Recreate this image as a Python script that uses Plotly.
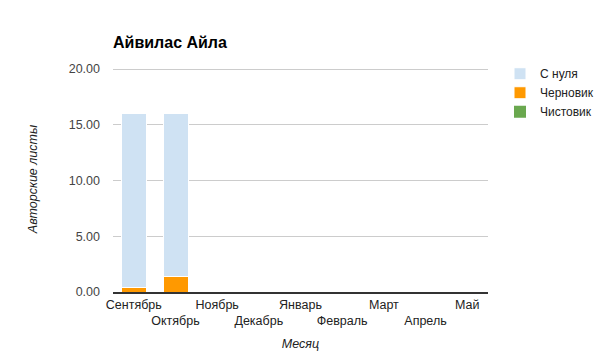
import plotly.graph_objects as go

months = ["Сентябрь", "Октябрь", "Ноябрь", "Декабрь", "Январь",
          "Февраль", "Март", "Апрель", "Май"]
from_scratch = [15.6, 14.6, 0, 0, 0, 0, 0, 0, 0]
draft = [0.4, 1.4, 0, 0, 0, 0, 0, 0, 0]
clean = [0, 0, 0, 0, 0, 0, 0, 0, 0]
y_ticks = [0, 5, 10, 15, 20]

tick_text = [m if i % 2 == 0 else "<br>" + m for i, m in enumerate(months)]

FONT = "Liberation Sans, Arial, sans-serif"
fig = go.Figure()
fig.add_bar(x=months, y=draft, name="Черновик", marker=dict(color="#ff9900", line=dict(color="white", width=1)), legendrank=2)
fig.add_bar(x=months, y=from_scratch, name="С нуля", marker=dict(color="#cfe2f3", line=dict(color="white", width=1)), legendrank=1)
fig.add_bar(x=months, y=clean, name="Чистовик", marker=dict(color="#6aa84f", line=dict(color="white", width=0)), legendrank=3)

fig.update_layout(
    width=600, height=361,
    barmode="stack", bargap=0.4,
    paper_bgcolor="white", plot_bgcolor="white",
    margin=dict(l=113, r=112, t=66, b=69, autoexpand=False),
    font=dict(family=FONT, size=12, color="#222222"),
    title=dict(text="<b>Айвилас Айла</b>", x=113/600, xanchor="left", y=1-42/361, yanchor="middle",
               font=dict(family=FONT, size=16, color="#000000")),
    legend=dict(x=(500-113)/375, xanchor="left", y=1.03, yanchor="top", traceorder="normal",
                font=dict(family=FONT, size=12, color="#222222"), itemwidth=30, tracegroupgap=0),
    xaxis=dict(tickmode="array", tickvals=months, ticktext=tick_text, showgrid=False,
               showline=True, linecolor="#333333", linewidth=2, ticks="", tickangle=0,
               automargin=False,
               tickfont=dict(size=12.5, color="#222222"),
               title=dict(text="<i>Месяц</i>", font=dict(size=12.5, color="#222222"), standoff=12)),
    yaxis=dict(range=[0, 20.27], tickvals=y_ticks, tickformat=".2f", showgrid=True,
               gridcolor="#cccccc", zeroline=False, ticks="", ticklabelstandoff=12,
               automargin=False,
               tickfont=dict(size=12.5, color="#444444"),
               title=dict(text="<i>Авторские листы</i>", font=dict(size=12.5, color="#222222"), standoff=28)),
)
fig.write_html("out.html")
